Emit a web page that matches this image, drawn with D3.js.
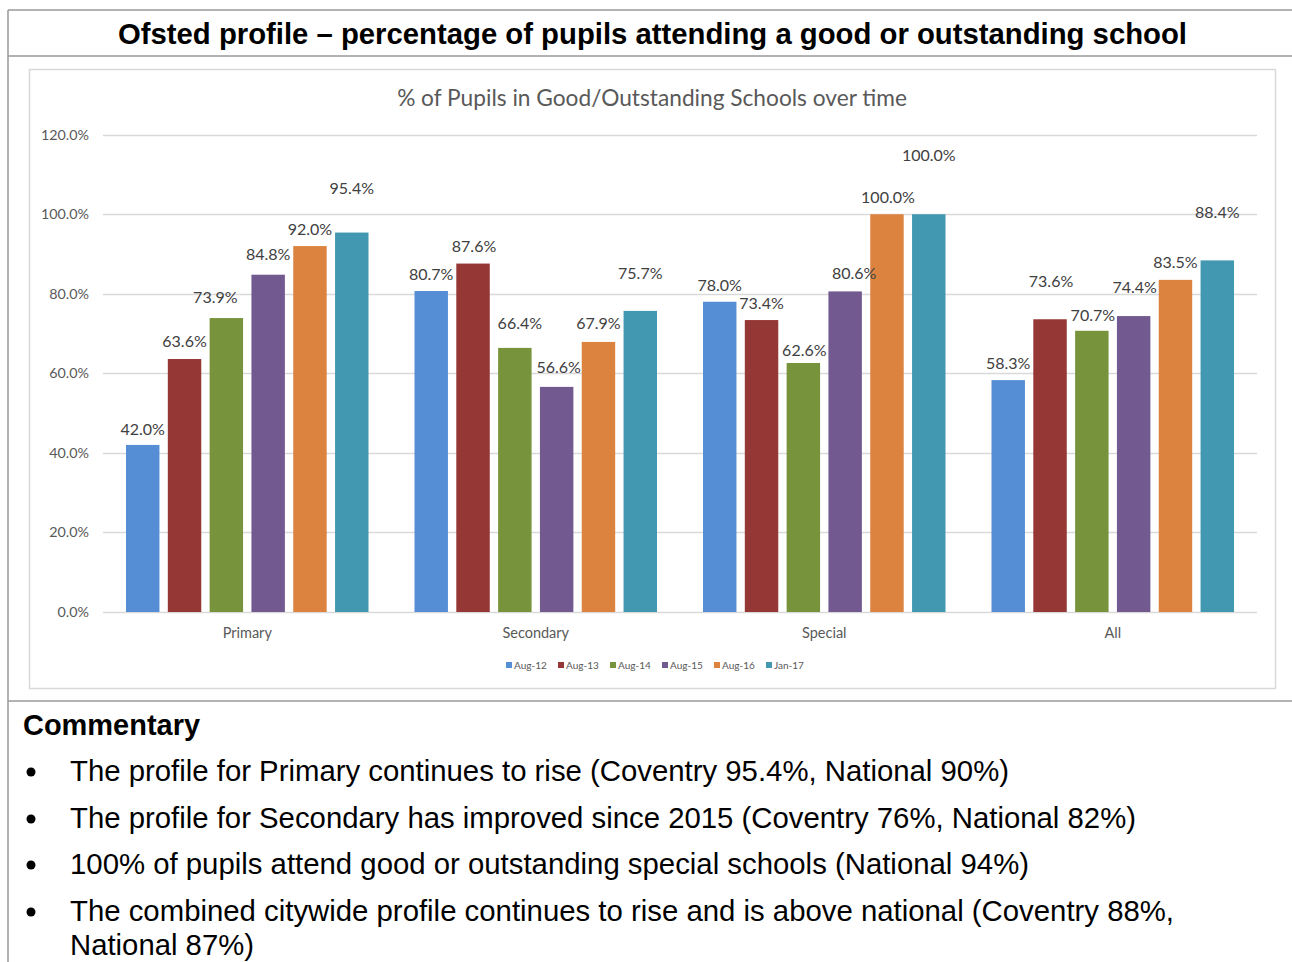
<!DOCTYPE html>
<html>
<head>
<meta charset="utf-8">
<script src="https://cdn.jsdelivr.net/npm/d3@7/dist/d3.min.js"></script>
<style>
body { margin: 0; background: #fff; }
.chart text { font-family: Lato, "Open Sans", sans-serif; fill: #595959; }
.doc text { font-family: "Liberation Sans", Arial, sans-serif; fill: #000; }
</style>
</head>
<body>
<script>
var categories = ["Primary", "Secondary", "Special", "All"];
var seriesNames = ["Aug-12", "Aug-13", "Aug-14", "Aug-15", "Aug-16", "Jan-17"];
var aug12 = [42.0, 80.7, 78.0, 58.3];
var aug13 = [63.6, 87.6, 73.4, 73.6];
var aug14 = [73.9, 66.4, 62.6, 70.7];
var aug15 = [84.8, 56.6, 80.6, 74.4];
var aug16 = [92.0, 67.9, 100.0, 83.5];
var jan17 = [95.4, 75.7, 100.0, 88.4];
var yTicks = [0, 20, 40, 60, 80, 100, 120];
var colors = ["#558ed5", "#953735", "#77933c", "#72598f", "#db833f", "#4298b0"];

// data labels in the original were dragged around by hand, [dx, dy] per series / category
var labelNudge = [
	[[0, 1], [0, 0], [0, 0], [0, 0]],
	[[0, -1], [1, -1], [0, 0], [1, -21]],
	[[-11, -4], [5, -8], [1, 4], [1, 1]],
	[[0, -4], [2, -3], [9, -1], [1, -12]],
	[[0, 0], [0, -2], [1, 0], [0, -1]],
	[[0, -28], [0, -21], [0, -42], [0, -31]]
];

var commentary = [
	"The profile for Primary continues to rise (Coventry 95.4%, National 90%)",
	"The profile for Secondary has improved since 2015 (Coventry 76%, National 82%)",
	"100% of pupils attend good or outstanding special schools (National 94%)",
	"The combined citywide profile continues to rise and is above national (Coventry 88%,"
];

var values = [aug12, aug13, aug14, aug15, aug16, jan17];

var svg = d3.select("body")
	.append("svg")
	.attr("width", 1292)
	.attr("height", 962);

// ---- document table frame
var doc = svg.append("g").attr("class", "doc");
doc.append("line").attr("x1", 8).attr("x2", 1292).attr("y1", 10).attr("y2", 10)
	.attr("stroke", "#9a9a9a").attr("stroke-width", 1.5);
doc.append("line").attr("x1", 8).attr("x2", 1292).attr("y1", 56).attr("y2", 56)
	.attr("stroke", "#9a9a9a").attr("stroke-width", 1.5);
doc.append("line").attr("x1", 8).attr("x2", 1292).attr("y1", 701).attr("y2", 701)
	.attr("stroke", "#9a9a9a").attr("stroke-width", 1.5);
doc.append("line").attr("x1", 8).attr("x2", 8).attr("y1", 10).attr("y2", 962)
	.attr("stroke", "#9a9a9a").attr("stroke-width", 1.5);

doc.append("text")
	.attr("x", 118).attr("y", 44)
	.attr("font-size", 29.5).attr("font-weight", "bold")
	.attr("textLength", 1069).attr("lengthAdjust", "spacingAndGlyphs")
	.text("Ofsted profile \u2013 percentage of pupils attending a good or outstanding school");

doc.append("text")
	.attr("x", 23).attr("y", 735)
	.attr("font-size", 29.5).attr("font-weight", "bold")
	.attr("textLength", 177).attr("lengthAdjust", "spacingAndGlyphs")
	.text("Commentary");

var lineWidths = [939, 1066, 959, 1104];
var lineY = [781, 828, 874, 921];
commentary.forEach(function(t, i) {
	doc.append("circle").attr("cx", 31).attr("cy", lineY[i] - 9).attr("r", 4.5).attr("fill", "#000");
	doc.append("text")
		.attr("x", 70).attr("y", lineY[i])
		.attr("font-size", 29)
		.attr("textLength", lineWidths[i]).attr("lengthAdjust", "spacingAndGlyphs")
		.text(t);
});
doc.append("text")
	.attr("x", 70).attr("y", 955)
	.attr("font-size", 29)
	.attr("textLength", 184).attr("lengthAdjust", "spacingAndGlyphs")
	.text("National 87%)");

// ---- chart
var chart = svg.append("g").attr("class", "chart");
chart.append("rect")
	.attr("x", 29.5).attr("y", 69.5).attr("width", 1246).attr("height", 619)
	.attr("fill", "#fff").attr("stroke", "#d9d9d9").attr("stroke-width", 1.5);

chart.append("text")
	.attr("x", 652).attr("y", 106)
	.attr("text-anchor", "middle")
	.attr("font-size", 22.7)
	.text("% of Pupils in Good/Outstanding Schools over time");

var x0 = d3.scaleBand().domain(categories).range([103, 1257]).padding(0);
var x1 = d3.scaleBand().domain(seriesNames).range([0, x0.bandwidth()])
	.paddingInner(0.2).paddingOuter(0.55);
var y = d3.scaleLinear().domain([0, 120]).range([612, 134.7]);

// gridlines
chart.append("g")
	.selectAll("line")
	.data(yTicks)
	.enter().append("line")
	.attr("x1", 103).attr("x2", 1257)
	.attr("y1", function(d) { return Math.round(y(d)) + 0.5; })
	.attr("y2", function(d) { return Math.round(y(d)) + 0.5; })
	.attr("stroke", "#d9d9d9").attr("stroke-width", 1.3);

// y tick labels
chart.append("g")
	.selectAll("text")
	.data(yTicks)
	.enter().append("text")
	.attr("x", 89)
	.attr("y", function(d) { return y(d) + 5; })
	.attr("text-anchor", "end")
	.attr("font-size", 14.3)
	.text(function(d) { return d.toFixed(1) + "%"; });

// category labels
chart.append("g")
	.selectAll("text")
	.data(categories)
	.enter().append("text")
	.attr("x", function(d) { return x0(d) + x0.bandwidth() / 2; })
	.attr("y", 638)
	.attr("text-anchor", "middle")
	.attr("font-size", 14.5)
	.text(function(d) { return d; });

// bars
var cells = [];
seriesNames.forEach(function(s, si) {
	categories.forEach(function(c, ci) {
		cells.push({ series: s, si: si, cat: c, ci: ci, v: values[si][ci] });
	});
});

chart.append("g")
	.selectAll("rect")
	.data(cells)
	.enter().append("rect")
	.attr("x", function(d) { return x0(d.cat) + x1(d.series); })
	.attr("y", function(d) { return y(d.v); })
	.attr("width", x1.bandwidth())
	.attr("height", function(d) { return y(0) - y(d.v); })
	.attr("fill", function(d) { return colors[d.si]; });

// data labels
chart.append("g")
	.selectAll("text")
	.data(cells)
	.enter().append("text")
	.attr("x", function(d) { return x0(d.cat) + x1(d.series) + x1.bandwidth() / 2 + labelNudge[d.si][d.ci][0]; })
	.attr("y", function(d) { return y(d.v) - 11 + labelNudge[d.si][d.ci][1]; })
	.attr("text-anchor", "middle")
	.attr("font-size", 16)
	.style("fill", "#404040")
	.text(function(d) { return d.v.toFixed(1) + "%"; });

// legend
var legend = chart.append("g")
	.selectAll("g")
	.data(seriesNames)
	.enter().append("g")
	.attr("transform", function(d, i) { return "translate(" + (506 + i * 52) + ",665)"; });
legend.append("rect")
	.attr("x", 0).attr("y", -3).attr("width", 6).attr("height", 6)
	.attr("fill", function(d, i) { return colors[i]; });
legend.append("text")
	.attr("x", 8).attr("y", 3.5)
	.attr("font-size", 10)
	.text(function(d) { return d; });
</script>
</body>
</html>
